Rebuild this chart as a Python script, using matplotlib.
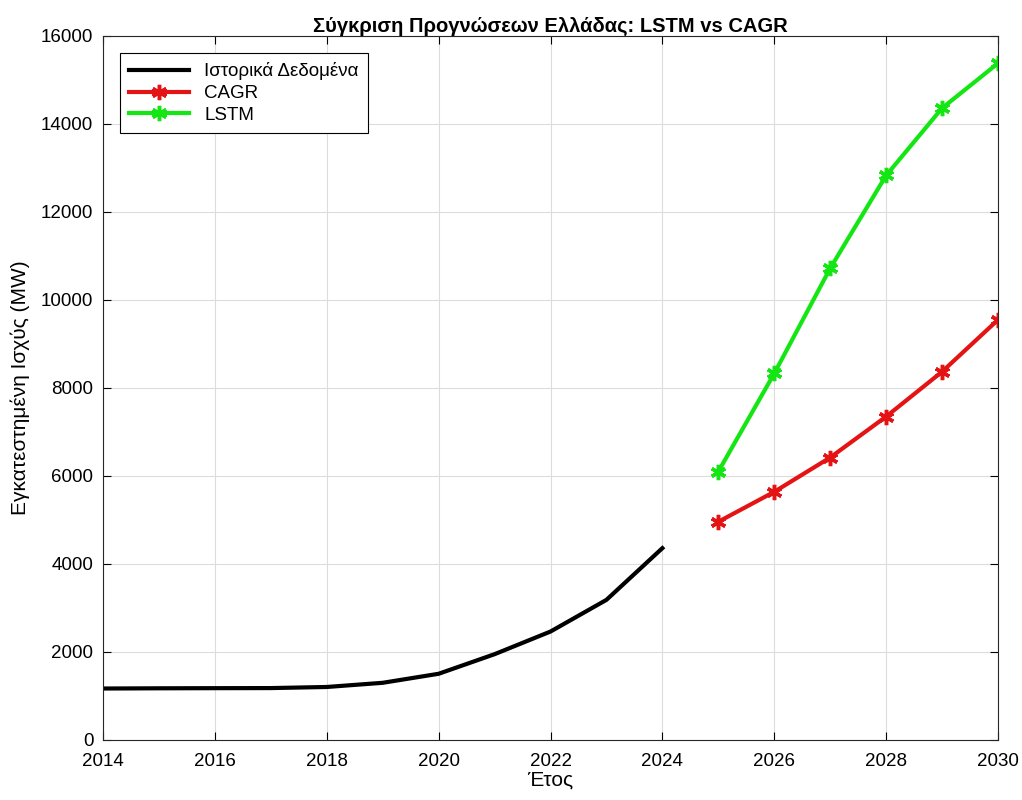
import numpy as np
import matplotlib.pyplot as plt

plt.rcParams['font.family'] = ['Liberation Sans', 'DejaVu Sans']

years_hist = [2014, 2015, 2016, 2017, 2018, 2019, 2020, 2021, 2022, 2023, 2024]
hist_mw = [1170, 1175, 1178, 1180, 1205, 1300, 1505, 1950, 2465, 3185, 4360]

years_fc = [2025, 2026, 2027, 2028, 2029, 2030]
cagr_mw = [4960, 5640, 6420, 7350, 8370, 9550]
lstm_mw = [6100, 8330, 10720, 12830, 14360, 15380]

xticks = list(range(2014, 2031, 2))
yticks = list(range(0, 16001, 2000))

fig = plt.figure(figsize=(10.22, 8), dpi=100)
ax = fig.add_axes([0.1008, 0.075, 0.8757, 0.88])

ax.plot(years_hist, hist_mw, color='black', lw=3, label='Ιστορικά Δεδομένα')
ax.plot(years_fc, cagr_mw, color='#e51414', lw=3, marker=(6, 2, 0),
        markersize=11, markeredgewidth=2.5, label='CAGR')
ax.plot(years_fc, lstm_mw, color='#14e614', lw=3, marker=(6, 2, 0),
        markersize=11, markeredgewidth=2.5, label='LSTM')

ax.set_xlim(2014, 2030)
ax.set_ylim(0, 16000)
ax.set_xticks(xticks)
ax.set_yticks(yticks)
ax.grid(True, color='#dcdcdc', lw=0.8)
ax.set_axisbelow(True)
ax.tick_params(direction='in', top=True, right=True, labelsize=13.5, length=6)
ax.tick_params(axis='x', pad=9)
ax.tick_params(axis='y', pad=7)
for s in ax.spines.values():
    s.set_color('#262626')
    s.set_linewidth(0.8)

ax.set_xlabel('Έτος', fontsize=15, labelpad=1)
ax.set_ylabel('Εγκατεστημένη Ισχύς (MW)', fontsize=15, labelpad=8)
ax.set_title('Σύγκριση Προγνώσεων Ελλάδας: LSTM vs CAGR', fontsize=14.5,
             fontweight='bold', pad=3)

leg = ax.legend(loc='upper left', fontsize=13.5, fancybox=False, framealpha=1,
                edgecolor='black', borderaxespad=0.9, handlelength=3.2,
                borderpad=0.5, labelspacing=0.25)
leg.get_frame().set_linewidth(0.8)

fig.savefig('out.png', dpi=100)
